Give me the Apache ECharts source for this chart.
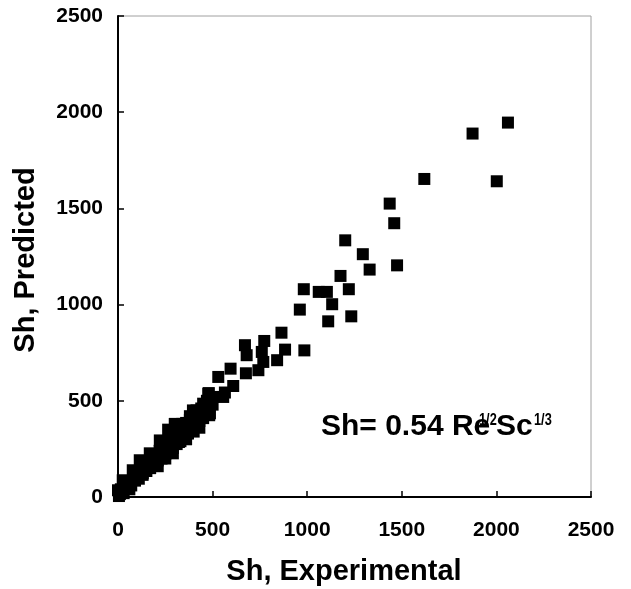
<!DOCTYPE html>
<html>
<head>
<meta charset="utf-8">
<script src="https://cdn.jsdelivr.net/npm/echarts@6/dist/echarts.min.js"></script>
<style>html,body{margin:0;padding:0;background:#fff}#c{width:631px;height:589px}</style>
</head>
<body>
<div id="c"></div>
<script>
// Experimental Sh values
var shExperimental = [
  2061, 1874, 2002, 1619, 1436, 1460, 1475, 1201, 1294, 1330, 1176, 1220, 1233, 1061, 1104, 1132, 1111,
  982, 961, 985, 864, 883, 841, 773, 760, 768, 742, 671, 680, 676, 595, 609, 530, 556, 477, 482, 450, 415, 565,
  486, 396, 362, 322, 290, 277, 221, 168, 115, 78, 25, 0, 131,
  10, 20, 30, 40, 50, 60, 70, 80, 90, 100, 110, 120, 130, 140, 150, 160, 170, 180, 190, 200, 210, 220, 230,
  240, 250, 260, 270, 280, 290, 300, 310, 320, 330, 340, 350, 360, 370, 380, 390, 400, 410, 420, 430, 440,
  450, 470, 480, 500, 265, 320, 360, 400, 480, 500, 210, 250, 60, 5, 15, 300, 340, 430, 380
];
// Predicted Sh values
var shPredicted = [
  1946, 1889, 1641, 1653, 1525, 1423, 1204, 1334, 1262, 1182, 1149, 1080, 939, 1066, 1066, 1002, 913,
  1080, 974, 762, 854, 766, 711, 811, 754, 702, 659, 789, 737, 643, 667, 577, 624, 520, 537, 425, 485, 450, 543,
  435, 450, 331, 286, 227, 347, 294, 227, 191, 139, 87, 35, 123,
  15, 30, 20, 55, 45, 75, 60, 100, 85, 120, 95, 140, 115, 150, 135, 175, 150, 200, 170, 215, 190, 240, 200,
  260, 225, 285, 240, 300, 255, 330, 275, 345, 290, 370, 310, 385, 330, 400, 350, 420, 375, 440, 395, 460,
  410, 500, 440, 520, 350, 290, 300, 340, 540, 480, 160, 200, 40, 5, 40, 380, 380, 360, 420
];
var xTicks = [0, 500, 1000, 1500, 2000, 2500];
var yTicks = [0, 500, 1000, 1500, 2000, 2500];

var pts = shExperimental.map(function (x, i) { return [x, shPredicted[i]]; });
var FONT = '"Liberation Sans", Arial, sans-serif';
function plain(v) { return String(v); }

var chart = echarts.init(document.getElementById('c'));
chart.setOption({
  animation: false,
  backgroundColor: '#fff',
  grid: { left: 118, right: 40, top: 16, bottom: 92, show: true, borderColor: '#a0a0a0', borderWidth: 1, backgroundColor: 'transparent' },
  xAxis: {
    type: 'value', min: xTicks[0], max: xTicks[xTicks.length - 1], interval: 500,
    axisLine: { show: true, onZero: false, lineStyle: { color: '#000', width: 2 } },
    axisTick: { show: true, inside: true, length: 6, lineStyle: { color: '#000', width: 1.5 } },
    axisLabel: { color: '#000', fontFamily: FONT, fontWeight: 'bold', fontSize: 21, margin: 23, formatter: plain },
    splitLine: { show: false }
  },
  yAxis: {
    type: 'value', min: yTicks[0], max: yTicks[yTicks.length - 1], interval: 500,
    axisLine: { show: true, onZero: false, lineStyle: { color: '#000', width: 2 } },
    axisTick: { show: true, inside: true, length: 6, lineStyle: { color: '#000', width: 1.5 } },
    axisLabel: { color: '#000', fontFamily: FONT, fontWeight: 'bold', fontSize: 21, margin: 15, formatter: plain },
    splitLine: { show: false }
  },
  series: [{
    type: 'scatter',
    data: pts,
    symbol: 'rect',
    symbolSize: 12,
    itemStyle: { color: '#000', opacity: 1 }
  }],
  graphic: [
    { type: 'text', x: 344, y: 572, style: { text: 'Sh, Experimental', font: 'bold 29px ' + FONT, fill: '#000', textAlign: 'center', textVerticalAlign: 'middle' } },
    { type: 'text', x: 26, y: 260, rotation: Math.PI / 2, style: { text: 'Sh, Predicted', font: 'bold 29px ' + FONT, fill: '#000', textAlign: 'center', textVerticalAlign: 'middle' } },
    { type: 'text', x: 321, y: 427, style: { text: 'Sh= 0.54 Re', font: 'bold 30px ' + FONT, fill: '#000', textAlign: 'left', textVerticalAlign: 'middle' } },
    { type: 'text', x: 479, y: 420, scaleX: 0.75, style: { text: '1/2', font: 'bold 17px ' + FONT, fill: '#000', textAlign: 'left', textVerticalAlign: 'middle' } },
    { type: 'text', x: 496, y: 427, style: { text: 'Sc', font: 'bold 30px ' + FONT, fill: '#000', textAlign: 'left', textVerticalAlign: 'middle' } },
    { type: 'text', x: 534, y: 420, scaleX: 0.75, style: { text: '1/3', font: 'bold 17px ' + FONT, fill: '#000', textAlign: 'left', textVerticalAlign: 'middle' } }
  ]
});
</script>
</body>
</html>
